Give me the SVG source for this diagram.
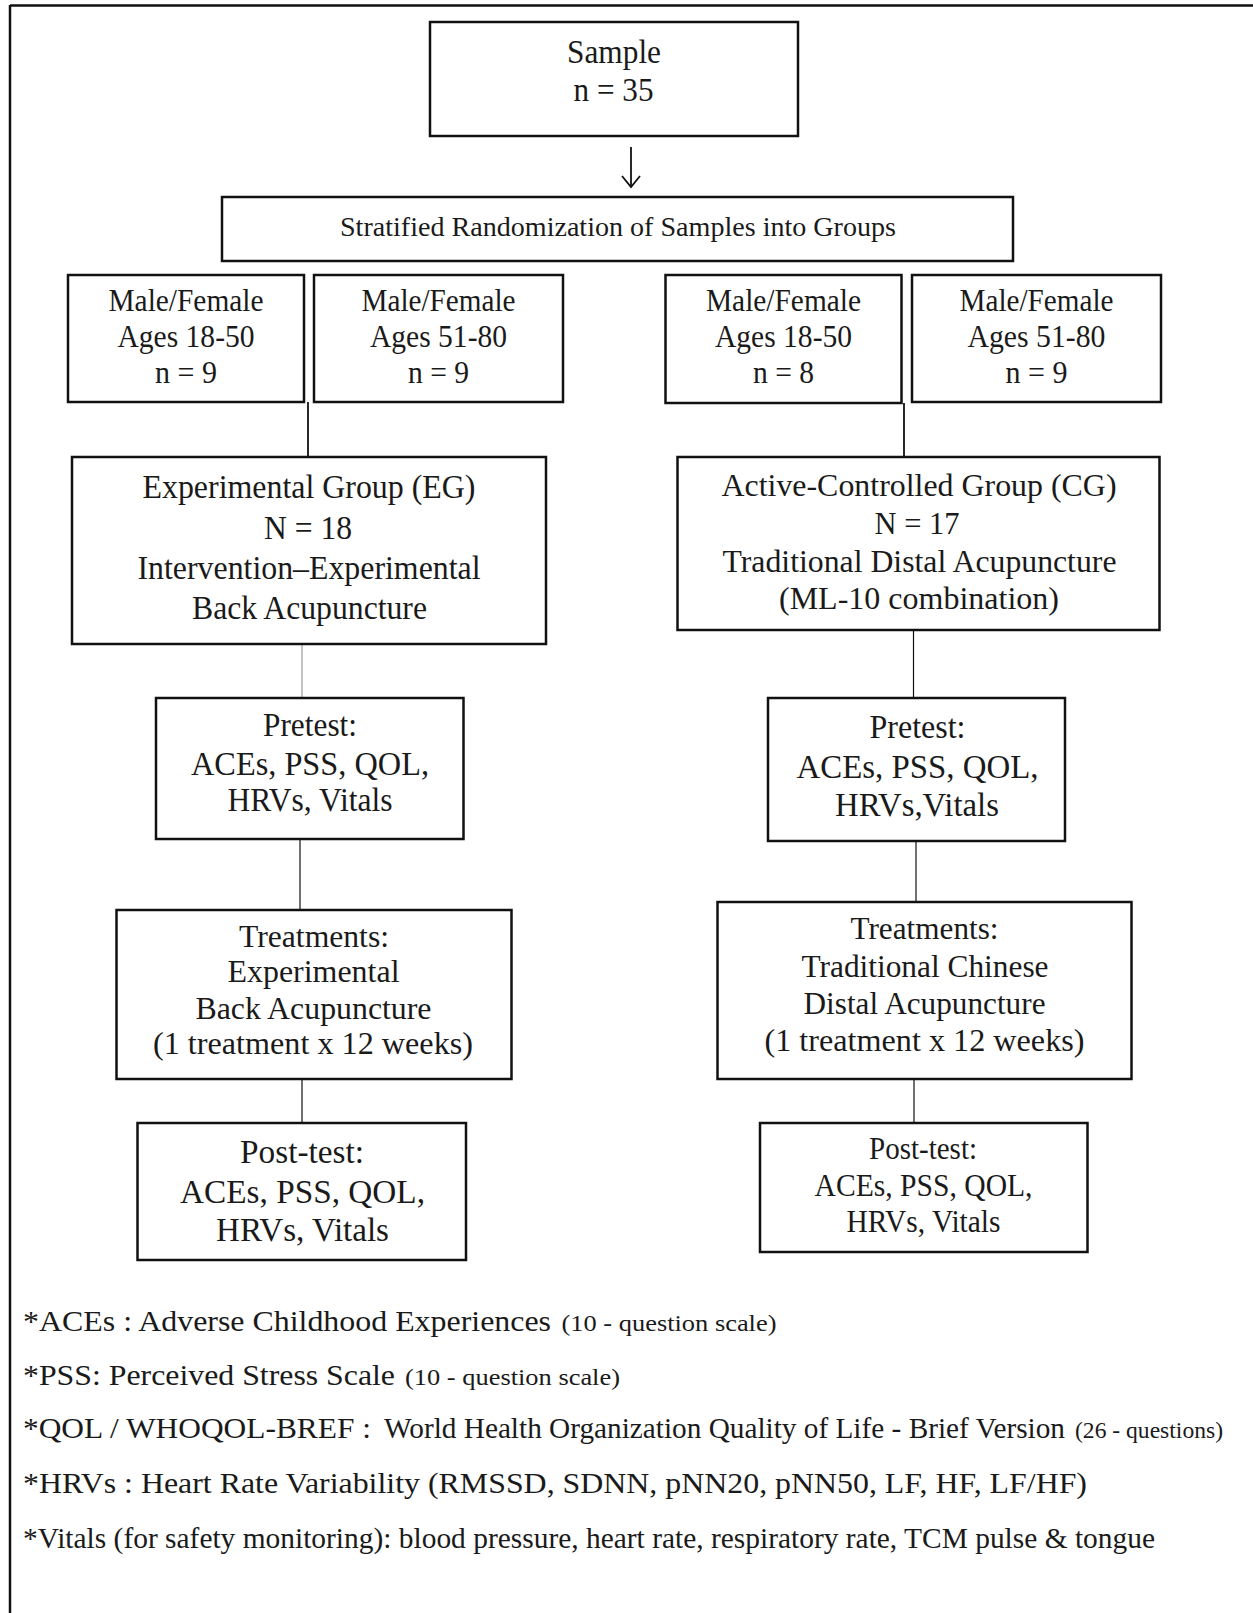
<svg xmlns="http://www.w3.org/2000/svg" width="1253" height="1613" viewBox="0 0 1253 1613">
<style>
  text { font-family: "Liberation Serif", "Times New Roman", serif; fill: #1a1a1a; }
  .c { text-anchor: middle; }
  .box { fill: #ffffff; stroke: #111111; stroke-width: 2.5; }
  .ln { stroke: #111111; stroke-width: 1.8; fill: none; }
  .thin { stroke: #111111; stroke-width: 1.2; fill: none; }
  .gray { stroke: #8a8a8a; stroke-width: 1; fill: none; }
  .f32 { font-size: 34px; }
  .f31 { font-size: 33px; }
  .f30 { font-size: 32px; }
  .f29 { font-size: 31px; }
  .f26 { font-size: 28px; }
  .fn { font-size: 30px; }
  .fs { font-size: 23px; }
</style>
<rect x="0" y="0" width="1253" height="1613" fill="#ffffff"/>
<g id="frame">
  <line x1="10" y1="5.5" x2="1253" y2="5.5" stroke="#111" stroke-width="2.5"/>
  <line x1="10" y1="5" x2="10" y2="1613" stroke="#111" stroke-width="2.5"/>
</g>
<g id="connectors">
  <line x1="631" y1="147" x2="631" y2="187" class="ln"/>
  <path d="M622,176 L631,187 L640,176" fill="none" stroke="#111" stroke-width="1.8"/>
  <line x1="308" y1="402" x2="308" y2="457" class="ln"/>
  <line x1="904" y1="403" x2="904" y2="457" class="ln"/>
  <line x1="302" y1="644" x2="302" y2="698" class="gray"/>
  <line x1="913.5" y1="630" x2="913.5" y2="698" class="thin"/>
  <line x1="300" y1="839" x2="300" y2="910" class="thin"/>
  <line x1="916" y1="841" x2="916" y2="902" class="thin"/>
  <line x1="302" y1="1079" x2="302" y2="1123" class="thin"/>
  <line x1="914" y1="1079" x2="914" y2="1123" class="thin"/>
</g>
<g id="sample">
  <rect class="box" x="430" y="22" width="368" height="114"/>
  <text class="c f31" x="614" y="63" textLength="94" lengthAdjust="spacingAndGlyphs">Sample</text>
  <text class="c f31" x="613.5" y="101" textLength="80" lengthAdjust="spacingAndGlyphs">n = 35</text>
</g>
<g id="stratified">
  <rect class="box" x="222" y="197" width="791" height="64"/>
  <text class="c f26" x="618" y="236" textLength="556" lengthAdjust="spacingAndGlyphs">Stratified Randomization of Samples into Groups</text>
</g>
<g id="eg-young">
  <rect class="box" x="68" y="275" width="236" height="127"/>
  <text class="c f30" x="186" y="311" textLength="155" lengthAdjust="spacingAndGlyphs">Male/Female</text>
  <text class="c f30" x="186" y="347" textLength="137" lengthAdjust="spacingAndGlyphs">Ages 18-50</text>
  <text class="c f30" x="186" y="383" textLength="62" lengthAdjust="spacingAndGlyphs">n = 9</text>
</g>
<g id="eg-old">
  <rect class="box" x="314" y="275" width="249" height="127"/>
  <text class="c f30" x="438.5" y="311" textLength="154" lengthAdjust="spacingAndGlyphs">Male/Female</text>
  <text class="c f30" x="438.5" y="347" textLength="137" lengthAdjust="spacingAndGlyphs">Ages 51-80</text>
  <text class="c f30" x="438.5" y="383" textLength="61" lengthAdjust="spacingAndGlyphs">n = 9</text>
</g>
<g id="cg-young">
  <rect class="box" x="665.5" y="275" width="236" height="128"/>
  <text class="c f30" x="783.5" y="311" textLength="155" lengthAdjust="spacingAndGlyphs">Male/Female</text>
  <text class="c f30" x="783.5" y="347" textLength="137" lengthAdjust="spacingAndGlyphs">Ages 18-50</text>
  <text class="c f30" x="783.5" y="383" textLength="61" lengthAdjust="spacingAndGlyphs">n = 8</text>
</g>
<g id="cg-old">
  <rect class="box" x="912" y="275" width="249" height="127"/>
  <text class="c f30" x="1036.5" y="311" textLength="154" lengthAdjust="spacingAndGlyphs">Male/Female</text>
  <text class="c f30" x="1036.5" y="347" textLength="138" lengthAdjust="spacingAndGlyphs">Ages 51-80</text>
  <text class="c f30" x="1036.5" y="383" textLength="62" lengthAdjust="spacingAndGlyphs">n = 9</text>
</g>
<g id="eg">
  <rect class="box" x="72" y="457" width="474" height="187"/>
  <text class="c f31" x="309" y="498" textLength="333" lengthAdjust="spacingAndGlyphs">Experimental Group (EG)</text>
  <text class="c f31" x="308" y="538.5" textLength="88" lengthAdjust="spacingAndGlyphs">N = 18</text>
  <text class="c f31" x="309" y="579" textLength="343" lengthAdjust="spacingAndGlyphs">Intervention–Experimental</text>
  <text class="c f31" x="309.5" y="619" textLength="235" lengthAdjust="spacingAndGlyphs">Back Acupuncture</text>
</g>
<g id="cg">
  <rect class="box" x="677.5" y="457" width="482" height="173"/>
  <text class="c f30" x="919" y="495.5" textLength="395" lengthAdjust="spacingAndGlyphs">Active-Controlled Group (CG)</text>
  <text class="c f30" x="917" y="533.5" textLength="85" lengthAdjust="spacingAndGlyphs">N = 17</text>
  <text class="c f30" x="919.5" y="571.5" textLength="394" lengthAdjust="spacingAndGlyphs">Traditional Distal Acupuncture</text>
  <text class="c f30" x="919" y="608.5" textLength="280" lengthAdjust="spacingAndGlyphs">(ML-10 combination)</text>
</g>
<g id="eg-pretest">
  <rect class="box" x="156" y="698" width="307.5" height="141"/>
  <text class="c f31" x="310" y="736" textLength="94" lengthAdjust="spacingAndGlyphs">Pretest:</text>
  <text class="c f31" x="310" y="775" textLength="238" lengthAdjust="spacingAndGlyphs">ACEs, PSS, QOL,</text>
  <text class="c f31" x="310" y="810.5" textLength="165" lengthAdjust="spacingAndGlyphs">HRVs, Vitals</text>
</g>
<g id="cg-pretest">
  <rect class="box" x="768" y="698" width="297" height="143"/>
  <text class="c f32" x="917.5" y="738" textLength="96" lengthAdjust="spacingAndGlyphs">Pretest:</text>
  <text class="c f32" x="917.5" y="778" textLength="242" lengthAdjust="spacingAndGlyphs">ACEs, PSS, QOL,</text>
  <text class="c f32" x="917" y="816" textLength="164" lengthAdjust="spacingAndGlyphs">HRVs,Vitals</text>
</g>
<g id="eg-treatment">
  <rect class="box" x="116.5" y="910" width="395" height="169"/>
  <text class="c f30" x="314" y="947" textLength="150" lengthAdjust="spacingAndGlyphs">Treatments:</text>
  <text class="c f30" x="313.5" y="982" textLength="172" lengthAdjust="spacingAndGlyphs">Experimental</text>
  <text class="c f30" x="313.5" y="1019" textLength="236" lengthAdjust="spacingAndGlyphs">Back Acupuncture</text>
  <text class="c f30" x="313" y="1054" textLength="320" lengthAdjust="spacingAndGlyphs">(1 treatment x 12 weeks)</text>
</g>
<g id="cg-treatment">
  <rect class="box" x="717.5" y="902" width="414" height="177"/>
  <text class="c f30" x="924.5" y="939" textLength="148" lengthAdjust="spacingAndGlyphs">Treatments:</text>
  <text class="c f30" x="925" y="977" textLength="247" lengthAdjust="spacingAndGlyphs">Traditional Chinese</text>
  <text class="c f30" x="924.5" y="1014" textLength="242" lengthAdjust="spacingAndGlyphs">Distal Acupuncture</text>
  <text class="c f30" x="924.5" y="1050.5" textLength="320" lengthAdjust="spacingAndGlyphs">(1 treatment  x 12 weeks)</text>
</g>
<g id="eg-posttest">
  <rect class="box" x="137.5" y="1123" width="328.5" height="137"/>
  <text class="c f32" x="302" y="1162.5" textLength="124" lengthAdjust="spacingAndGlyphs">Post-test:</text>
  <text class="c f32" x="302.5" y="1202.5" textLength="245" lengthAdjust="spacingAndGlyphs">ACEs, PSS, QOL,</text>
  <text class="c f32" x="302.5" y="1241" textLength="173" lengthAdjust="spacingAndGlyphs">HRVs, Vitals</text>
</g>
<g id="cg-posttest">
  <rect class="box" x="760" y="1123" width="327.5" height="129"/>
  <text class="c f29" x="923" y="1159" textLength="108" lengthAdjust="spacingAndGlyphs">Post-test:</text>
  <text class="c f29" x="923.5" y="1196" textLength="218" lengthAdjust="spacingAndGlyphs">ACEs, PSS, QOL,</text>
  <text class="c f29" x="923.5" y="1232" textLength="154" lengthAdjust="spacingAndGlyphs">HRVs, Vitals</text>
</g>
<g id="footnotes">
  <text class="fn" x="23" y="1331" textLength="528" lengthAdjust="spacingAndGlyphs">*ACEs : Adverse Childhood Experiences</text>
  <text class="fs" x="561.5" y="1331" textLength="215" lengthAdjust="spacingAndGlyphs">(10 - question scale)</text>
  <text class="fn" x="23" y="1385" textLength="372" lengthAdjust="spacingAndGlyphs">*PSS: Perceived Stress Scale</text>
  <text class="fs" x="405" y="1385" textLength="215" lengthAdjust="spacingAndGlyphs">(10 - question scale)</text>
  <text class="fn" x="23" y="1438" textLength="348" lengthAdjust="spacingAndGlyphs">*QOL / WHOQOL-BREF :</text>
  <text class="fn" x="384" y="1438" textLength="681" lengthAdjust="spacingAndGlyphs">World Health Organization Quality of Life - Brief Version</text>
  <text class="fs" x="1075" y="1438" textLength="148" lengthAdjust="spacingAndGlyphs">(26 - questions)</text>
  <text class="fn" x="23" y="1493" textLength="1064" lengthAdjust="spacingAndGlyphs">*HRVs : Heart Rate Variability (RMSSD, SDNN, pNN20, pNN50, LF, HF, LF/HF)</text>
  <text class="fn" x="23" y="1548" textLength="1132" lengthAdjust="spacingAndGlyphs">*Vitals (for safety monitoring): blood pressure, heart rate, respiratory rate, TCM pulse &amp; tongue</text>
</g>
</svg>
